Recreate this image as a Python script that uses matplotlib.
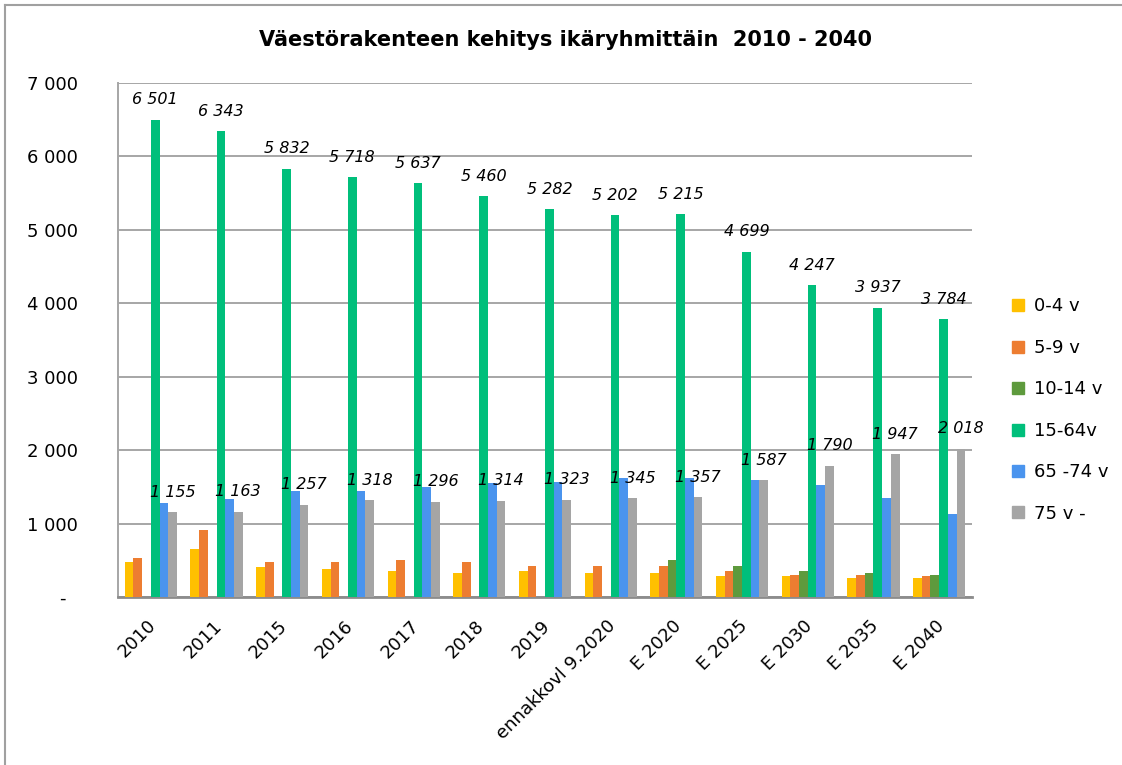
import numpy as np
import matplotlib
matplotlib.use("Agg")
import matplotlib.pyplot as plt
import matplotlib.transforms as mtransforms
from matplotlib.lines import Line2D

categories = ["2010", "2011", "2015", "2016", "2017", "2018", "2019",
              "ennakkovl 9.2020", "E 2020", "E 2025", "E 2030", "E 2035", "E 2040"]
series_names = ["0-4 v", "5-9 v", "10-14 v", "15-64v", "65 -74 v", "75 v -"]

age_0_4 = [481, 650, 405, 377, 354, 331, 354, 331, 327, 282, 282, 255, 255]
age_5_9 = [531, 913, 477, 477, 500, 477, 427, 427, 427, 354, 304, 304, 282]
age_10_14 = [np.nan] * 8 + [500, 427, 354, 327, 304]
age_15_64 = [6501, 6343, 5832, 5718, 5637, 5460, 5282, 5202, 5215, 4699, 4247, 3937, 3784]
age_65_74 = [1280, 1331, 1448, 1448, 1499, 1549, 1571, 1621, 1617, 1594, 1522, 1353, 1131]
age_75 = [1155, 1163, 1257, 1318, 1296, 1314, 1323, 1345, 1357, 1587, 1790, 1947, 2018]

colors = ["#FFC000", "#ED7D31", "#5E9A3D", "#00BF7B", "#4A94EE", "#A5A5A5"]
data = [age_0_4, age_5_9, age_10_14, age_15_64, age_65_74, age_75]


def fmt(v):
    return f"{v:,}".replace(",", " ")


fig = plt.figure(figsize=(11.22, 7.65), dpi=100)
ax = fig.add_axes([118 / 1122, 1 - 597 / 765, (972 - 118) / 1122, (597 - 83) / 765])

x = np.arange(len(categories))
w = 0.1325
for i, (vals, c) in enumerate(zip(data, colors)):
    ax.bar(x + (i - 2.5) * w, vals, width=w, color=c, label=series_names[i], zorder=3)

# value labels for 15-64 and 75- series
for i, v in enumerate(age_15_64):
    ax.annotate(fmt(v), (x[i] + 0.5 * w, v), xytext=(0, 9), textcoords="offset points",
                ha="center", va="bottom", fontsize=11.5, style="italic", zorder=4)
for i, v in enumerate(age_75):
    ax.annotate(fmt(v), (x[i] + 2.5 * w, v), xytext=(0, 9), textcoords="offset points",
                ha="center", va="bottom", fontsize=11.5, style="italic", zorder=4)

ax.set_xlim(-0.5, len(categories) - 0.5)
ax.set_ylim(0, 7000)
ax.set_yticks(range(0, 7001, 1000))
ax.set_yticklabels(["-  "] + [fmt(v) for v in range(1000, 7001, 1000)], fontsize=13)
ax.tick_params(axis="y", length=0, pad=29)
ax.set_xticks(x)
ax.set_xticklabels(categories, rotation=45, ha="right", rotation_mode="anchor", fontsize=13)
ax.tick_params(axis="x", length=0, pad=14)
shift = mtransforms.ScaledTranslation(-4 / 100, 0, fig.dpi_scale_trans)
for lbl in ax.get_xticklabels():
    lbl.set_transform(lbl.get_transform() + shift)

ax.grid(axis="y", color="#A6A6A6", linewidth=1.4, zorder=0)
for s in ["top", "right"]:
    ax.spines[s].set_visible(False)
ax.spines["left"].set_color("#A6A6A6")
ax.spines["left"].set_linewidth(1.4)
ax.spines["bottom"].set_color("#8C8C8C")
ax.spines["bottom"].set_linewidth(2)

fig.text(0.504, 0.948, "Väestörakenteen kehitys ikäryhmittäin  2010 - 2040",
         ha="center", va="center", fontsize=15, fontweight="bold")

handles = [Line2D([], [], marker="s", linestyle="none", markersize=9,
                  markerfacecolor=c, markeredgecolor=c) for c in colors]
fig.legend(handles, series_names, loc="upper left", bbox_to_anchor=(0.893, 0.623),
           frameon=False, fontsize=13, labelspacing=1.3, handlelength=0.8,
           handletextpad=0.5, borderpad=0)

# chart border (left and top edges visible)
fig.add_artist(Line2D([5 / 1122, 5 / 1122], [0, 1 - 5 / 765], transform=fig.transFigure,
                      color="#A0A0A0", linewidth=1.5))
fig.add_artist(Line2D([5 / 1122, 1], [1 - 5 / 765, 1 - 5 / 765], transform=fig.transFigure,
                      color="#A0A0A0", linewidth=1.5))

fig.savefig("out.png", dpi=100)
